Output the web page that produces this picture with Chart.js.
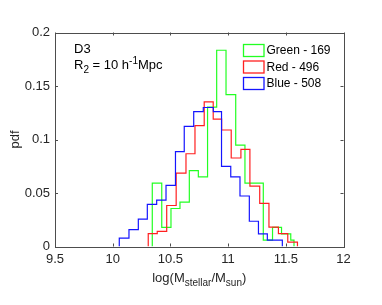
<!DOCTYPE html>
<html>
<head>
<meta charset="utf-8">
<script src="https://cdn.jsdelivr.net/npm/chart.js@4/dist/chart.umd.min.js"></script>
<style>
html,body{margin:0;padding:0;background:#fff;}
#c{display:block;}
</style>
</head>
<body>
<canvas id="c" width="382" height="305"></canvas>
<script>
// ---- data ----
const seriesNames = ['Green - 169', 'Red - 496', 'Blue - 508'];
const seriesColors = ['#22ff22', '#ff2020', '#1515ff'];

const greenEdges = [10.343, 10.425, 10.505, 10.583, 10.664, 10.742, 10.822, 10.901, 10.982, 11.066, 11.146, 11.227, 11.305, 11.385, 11.463, 11.543, 11.571];
const greenValues = [0.0592, 0.0178, 0.0355, 0.0414, 0.0710, 0.0651, 0.1302, 0.1834, 0.1420, 0.0947, 0.0592, 0.0592, 0.0059, 0.0178, 0.0118, 0.0059];

const redEdges = [10.308, 10.386, 10.468, 10.550, 10.635, 10.713, 10.793, 10.871, 10.944, 11.027, 11.111, 11.189, 11.274, 11.354, 11.436, 11.517, 11.601];
const redValues = [0.0121, 0.0141, 0.0383, 0.0685, 0.0867, 0.1129, 0.1351, 0.1190, 0.1089, 0.0827, 0.0907, 0.0565, 0.0403, 0.0181, 0.0121, 0.0040];

const blueEdges = [10.057, 10.141, 10.222, 10.300, 10.381, 10.462, 10.544, 10.620, 10.702, 10.785, 10.872, 10.943, 11.023, 11.103, 11.184, 11.263, 11.340, 11.470];
const blueValues = [0.0079, 0.0157, 0.0256, 0.0394, 0.0433, 0.0571, 0.0886, 0.1122, 0.1260, 0.1299, 0.1260, 0.0748, 0.0650, 0.0472, 0.0236, 0.0118, 0.0059];

const xTickLabels = ['9.5', '10', '10.5', '11', '11.5', '12'];
const yTickLabels = ['0', '0.05', '0.1', '0.15', '0.2'];

// ---- build stair outlines from edges/values ----
function stairs(edges, values) {
  const pts = [{x: edges[0], y: 0}];
  for (let i = 0; i < values.length; i++) pts.push({x: edges[i], y: values[i]});
  pts.push({x: edges[edges.length - 1], y: 0});
  return pts;
}

const FONT = '"Liberation Sans", Arial, Helvetica, sans-serif';
const TXT = '#262626';
const AXC = '#4d4d4d';

const overlay = {
  id: 'overlay',
  afterDraw(chart) {
    const ctx = chart.ctx;
    const a = chart.chartArea;
    const xs = chart.scales.x, ys = chart.scales.y;
    ctx.save();
    // axes box
    ctx.strokeStyle = AXC;
    ctx.lineWidth = 1;
    ctx.strokeRect(Math.round(a.left) + 0.5, Math.round(a.top) + 0.5,
                   Math.round(a.right) - Math.round(a.left), Math.round(a.bottom) - Math.round(a.top));
    // inward ticks on all four sides
    const tl = 3;
    ctx.beginPath();
    xs.ticks.forEach(t => {
      const px = Math.round(xs.getPixelForValue(t.value)) + 0.5;
      ctx.moveTo(px, a.bottom); ctx.lineTo(px, a.bottom - tl);
      ctx.moveTo(px, a.top); ctx.lineTo(px, a.top + tl);
    });
    ys.ticks.forEach(t => {
      const py = Math.round(ys.getPixelForValue(t.value)) + 0.5;
      ctx.moveTo(a.left, py); ctx.lineTo(a.left + tl, py);
      ctx.moveTo(a.right, py); ctx.lineTo(a.right - tl, py);
    });
    ctx.stroke();

    // legend
    ctx.textBaseline = 'middle';
    ctx.textAlign = 'left';
    ctx.font = '12px ' + FONT;
    const lx = 243.5, ly0 = 50.5, lstep = 16.5;
    seriesNames.forEach((name, i) => {
      const cy = ly0 + i * lstep;
      ctx.strokeStyle = seriesColors[i];
      ctx.lineWidth = 1.3;
      ctx.strokeRect(lx, cy - 6, 20.5, 12);
      ctx.fillStyle = '#000';
      ctx.fillText(name, lx + 23, cy + 0.5);
    });

    // rich text helper: parts [text, kind] kind: 'n' normal, 'sub', 'sup'
    function rich(parts, x, y, size, align) {
      const small = Math.round(size * 0.78);
      let w = 0;
      parts.forEach(p => {
        ctx.font = (p[1] === 'n' ? size : small) + 'px ' + FONT;
        w += ctx.measureText(p[0]).width;
      });
      let cx = align === 'center' ? x - w / 2 : x;
      ctx.textAlign = 'left';
      ctx.textBaseline = 'alphabetic';
      parts.forEach(p => {
        ctx.font = (p[1] === 'n' ? size : small) + 'px ' + FONT;
        const dy = p[1] === 'sub' ? size * 0.33 : (p[1] === 'sup' ? -size * 0.38 : 0);
        ctx.fillText(p[0], cx, y + dy);
        cx += ctx.measureText(p[0]).width;
      });
    }
    ctx.fillStyle = '#000';
    rich([['D3', 'n']], 74, 53, 13, 'left');
    rich([['R', 'n'], ['2', 'sub'], [' = 10 h', 'n'], ['-1', 'sup'], ['Mpc', 'n']], 74, 68.5, 13, 'left');

    // x axis title
    ctx.fillStyle = TXT;
    rich([['log(M', 'n'], ['stellar', 'sub'], ['/M', 'n'], ['sun', 'sub'], [')', 'n']], (a.left + a.right) / 2, 282, 13, 'center');

    // y axis title
    ctx.save();
    ctx.translate(15.5, (a.top + a.bottom) / 2);
    ctx.rotate(-Math.PI / 2);
    ctx.textAlign = 'center';
    ctx.textBaseline = 'middle';
    ctx.font = '13px ' + FONT;
    ctx.fillText('pdf', 0, 0);
    ctx.restore();

    ctx.restore();
  }
};

const datasets = [
  {label: seriesNames[0], data: stairs(greenEdges, greenValues), borderColor: seriesColors[0], order: 3},
  {label: seriesNames[1], data: stairs(redEdges, redValues), borderColor: seriesColors[1], order: 2},
  {label: seriesNames[2], data: stairs(blueEdges, blueValues), borderColor: seriesColors[2], order: 1}
].map(d => Object.assign(d, {
  stepped: 'before', borderWidth: 1.2, pointRadius: 0, fill: false,
  backgroundColor: 'rgba(0,0,0,0)', tension: 0
}));

new Chart(document.getElementById('c'), {
  type: 'line',
  data: {datasets},
  options: {
    responsive: false,
    animation: false,
    devicePixelRatio: 1,
    layout: {padding: {left: 0, right: 38.5, top: 32.5, bottom: 0}},
    scales: {
      x: {
        type: 'linear', min: 9.5, max: 12,
        grid: {display: false, drawTicks: false},
        border: {display: false},
        ticks: {
          stepSize: 0.5, padding: 5, color: TXT, maxRotation: 0,
          font: {family: FONT, size: 13},
          callback: (v, i) => xTickLabels[i]
        },
        afterFit: s => { s.height = 58.5; }
      },
      y: {
        type: 'linear', min: 0, max: 0.2,
        grid: {display: false, drawTicks: false},
        border: {display: false},
        ticks: {
          stepSize: 0.05, padding: 5, color: TXT,
          font: {family: FONT, size: 13},
          callback: (v, i) => yTickLabels[i]
        },
        afterFit: s => { s.width = 55; }
      }
    },
    plugins: {legend: {display: false}, tooltip: {enabled: false}}
  },
  plugins: [overlay]
});
</script>
</body>
</html>
